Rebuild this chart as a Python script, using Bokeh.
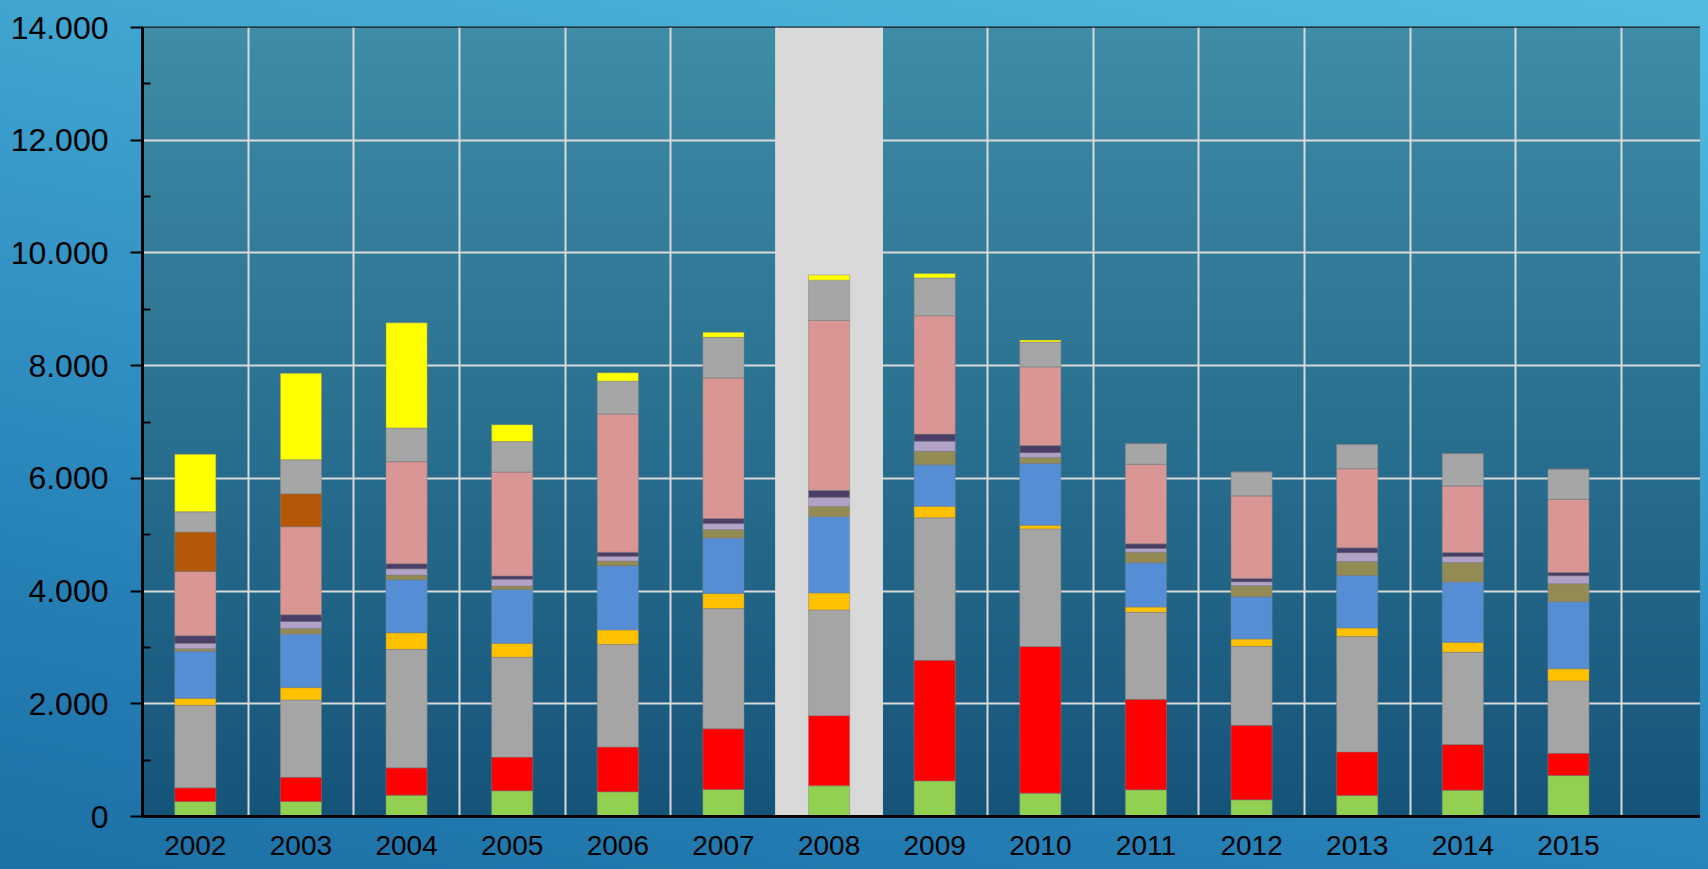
import numpy as np
from bokeh.plotting import figure
from bokeh.models import ColumnDataSource, Range1d, FixedTicker, GlobalInlineStyleSheet
from bokeh.embed import file_html
from bokeh.resources import INLINE

# ---------------- data ----------------
years = ["2002", "2003", "2004", "2005", "2006", "2007", "2008",
         "2009", "2010", "2011", "2012", "2013", "2014", "2015"]
highlight_year = "2008"

green    = [266, 266, 378, 455, 437, 479, 545, 631, 414, 473, 295, 372, 467, 727]
red      = [242, 431, 485, 599, 797, 1078, 1248, 2141, 2601, 1607, 1324, 774, 809, 396]
gray_a   = [1465, 1371, 2103, 1772, 1820, 2132, 1872, 2528, 2088, 1542, 1400, 2050, 1637, 1282]
gold     = [125, 219, 295, 246, 257, 269, 302, 204, 66, 94, 130, 148, 177, 218]
blue     = [833, 951, 940, 958, 1138, 982, 1353, 736, 1097, 786, 751, 934, 1070, 1188]
olive    = [47, 100, 83, 60, 84, 150, 184, 243, 105, 189, 195, 248, 349, 319]
lavender = [94, 124, 112, 120, 84, 108, 158, 177, 85, 65, 70, 154, 106, 142]
purple   = [136, 119, 89, 59, 72, 89, 125, 125, 125, 83, 60, 88, 71, 59]
pink     = [1141, 1559, 1813, 1845, 2455, 2497, 3014, 2102, 1399, 1412, 1465, 1406, 1181, 1300]
brown    = [697, 585, 0, 0, 0, 0, 0, 0, 0, 0, 0, 0, 0, 0]
gray_b   = [360, 603, 597, 539, 581, 719, 716, 670, 440, 366, 425, 426, 573, 532]
yellow   = [1022, 1536, 1865, 299, 149, 90, 92, 78, 33, 0, 0, 0, 0, 0]

y_ticks = [0, 2000, 4000, 6000, 8000, 10000, 12000, 14000]
y_minor = [1000, 3000, 5000, 7000, 9000, 11000, 13000]

series = {
    "green": green, "red": red, "gray_a": gray_a, "gold": gold, "blue": blue,
    "olive": olive, "lavender": lavender, "purple": purple, "pink": pink,
    "brown": brown, "gray_b": gray_b, "yellow": yellow,
}
colors = ["#92D050", "#FF0000", "#A5A5A5", "#FFC000", "#558ED5", "#948A54",
          "#B3A2C7", "#4A3E66", "#D99694", "#B65708", "#A6A6A6", "#FFFF00"]

# ---------------- figure ----------------
X_END = 14.75
Y_MAX = y_ticks[-1]
FONT = "'Liberation Sans', Arial, sans-serif"

xs = [i + 0.5 for i in range(len(years))]
src = ColumnDataSource(dict(x=xs, **series))

p = figure(width=1700, height=861, output_backend="svg", toolbar_location=None,
           x_range=Range1d(0, X_END), y_range=Range1d(0, Y_MAX),
           min_border_left=142, min_border_right=0, min_border_top=27,
           min_border_bottom=45)
p.border_fill_alpha = 0
p.background_fill_color = "#2A7A9E"
p.outline_line_color = "#1A1A1A"
p.outline_line_width = 2

p.stylesheets = [GlobalInlineStyleSheet(css=(
    "html{min-height:100%;background:linear-gradient(192deg,#52BDE0 0%,#3A9CCB 40%,"
    "#2580B6 75%,#1C70A5 100%) no-repeat fixed;}"
    "body{background:transparent;}"))]

# frame gradient (background)
N = 256
top_c = np.array([62, 140, 166], dtype=float)
bot_c = np.array([21, 84, 121], dtype=float)
t = np.linspace(0, 1, N)[:, None]
cols = (bot_c * (1 - t) + top_c * t).round().astype(np.uint8)
img = np.zeros((N, 1), dtype=np.uint32)
view = img.view(dtype=np.uint8).reshape((N, 1, 4))
view[:, 0, 0] = cols[:, 0]
view[:, 0, 1] = cols[:, 1]
view[:, 0, 2] = cols[:, 2]
view[:, 0, 3] = 255
p.image_rgba(image=[img], x=0, y=0, dw=X_END, dh=Y_MAX, level="image")

# highlight band
hi = years.index(highlight_year)
p.vbar(x=[xs[hi]], width=1.02, top=[Y_MAX], bottom=0,
       fill_color="#D9D9D9", line_color=None)

# stacked bars
p.vbar_stack(list(series.keys()), x="x", width=0.39, color=colors, source=src,
             line_color="#7F7F7F", line_alpha=0.45, line_width=1)

# grids
p.xgrid.ticker = FixedTicker(ticks=list(range(1, 15)))
p.xgrid.grid_line_color = "#D9D9D9"
p.xgrid.grid_line_width = 2
p.ygrid.grid_line_color = "#D9D9D9"
p.ygrid.grid_line_width = 2

# y axis
ya = p.yaxis[0]
ya.ticker = FixedTicker(ticks=y_ticks, minor_ticks=y_minor)
ya.major_label_overrides = {v: f"{v:,}".replace(",", ".") for v in y_ticks}
ya.major_label_text_font = FONT
ya.major_label_text_font_size = "32px"
ya.major_label_text_color = "#000000"
ya.major_label_standoff = 22
ya.axis_line_color = "#000000"
ya.axis_line_width = 3
ya.major_tick_line_color = "#000000"
ya.major_tick_line_width = 2
ya.major_tick_out = 12
ya.major_tick_in = 0
ya.minor_tick_line_color = "#000000"
ya.minor_tick_line_width = 2
ya.minor_tick_in = 8
ya.minor_tick_out = 0

# x axis
xa = p.xaxis[0]
xa.ticker = FixedTicker(ticks=xs)
xa.major_label_overrides = {x: y for x, y in zip(xs, years)}
xa.major_label_text_font = FONT
xa.major_label_text_font_size = "28px"
xa.major_label_text_color = "#000000"
xa.major_label_standoff = 13
xa.axis_line_color = "#000000"
xa.axis_line_width = 3
xa.major_tick_line_color = None
xa.minor_tick_line_color = None

open("out.html", "w").write(file_html(p, INLINE))
